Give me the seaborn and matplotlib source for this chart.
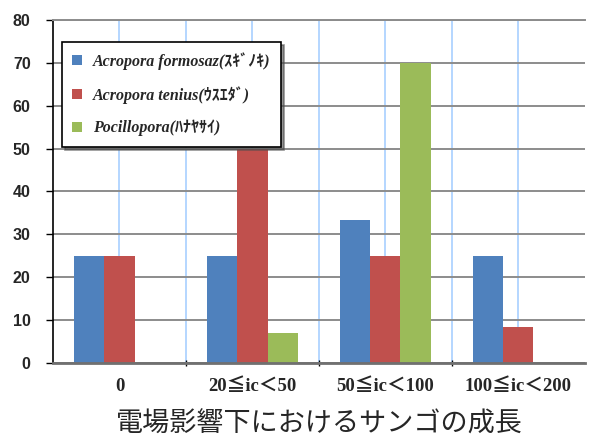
import pandas as pd
import matplotlib
matplotlib.use('Agg')
import matplotlib.pyplot as plt
import seaborn as sns

categories = ['0', '20≦ic＜50', '50≦ic＜100', '100≦ic＜200']
species = ['Acropora formosaz(ｽｷﾞﾉｷ)', 'Acropora tenius(ｳｽｴﾀﾞ)', 'Pocillopora(ﾊﾅﾔｻｲ)']
formosaz = [25.0, 25.0, 33.3, 25.0]
tenius = [25.0, 50.0, 25.0, 8.3]
pocillopora = [0.0, 7.0, 70.0, 0.0]
colors = ['#4F81BD', '#C0504D', '#9BBB59']
yticks = [0, 10, 20, 30, 40, 50, 60, 70, 80]

rows = []
for name, vals in zip(species, [formosaz, tenius, pocillopora]):
    for cat, v in zip(categories, vals):
        rows.append({'range': cat, 'species': name, 'value': v})
df = pd.DataFrame(rows)

sns.set_style('white')
plt.rcParams['font.family'] = ['Liberation Serif', 'Noto Sans CJK JP']

fig = plt.figure(figsize=(5.95, 4.42), dpi=100)
ax = fig.add_axes([0.089, 0.179, 0.894, 0.776])
ax.set_axisbelow(True)

sns.barplot(data=df, x='range', y='value', hue='species', order=categories,
            hue_order=species, palette=colors, width=0.68, saturation=1,
            ax=ax, edgecolor='none', linewidth=0)

ax.set_ylim(0, 80)
ax.set_xlim(-0.5, 3.5)
ax.set_yticks(yticks)
ax.set_yticklabels([str(t) for t in yticks], family=['Liberation Sans'],
                   fontweight='bold', fontsize=11.5)
ax.set_xticks(range(len(categories)))
ax.set_xticklabels(categories, fontweight='bold', fontsize=13.5)
ax.set_xticks([0.5, 1.5, 2.5], minor=True)

ax.tick_params(axis='y', which='major', left=True, length=5, width=1,
               color='black', pad=11, direction='out')
ax.tick_params(axis='x', which='major', length=0, pad=11)
ax.tick_params(axis='x', which='minor', bottom=True, length=4, width=1,
               color='black', direction='inout')

ax.yaxis.grid(True, color='#8c8c8c', linewidth=1.4)
ax.xaxis.grid(True, which='both', color='#a8d0ff', linewidth=1.2)

ax.spines['left'].set_color('black')
ax.spines['left'].set_linewidth(1.2)
ax.spines['bottom'].set_color('#707070')
ax.spines['bottom'].set_linewidth(2)
ax.spines['top'].set_color('#8c8c8c')
ax.spines['top'].set_linewidth(1.4)
ax.spines['right'].set_visible(False)

ax.set_ylabel('')
ax.set_xlabel('電場影響下におけるサンゴの成長', family=['Noto Sans CJK JP'],
              fontsize=19.5, labelpad=11)

leg = ax.legend(loc='upper left', bbox_to_anchor=(0.017, 0.936), borderaxespad=0,
                frameon=True, fancybox=False, shadow={'ox': 2, 'oy': -2, 'alpha': 0.6},
                edgecolor='black', framealpha=1, handlelength=0.6, handleheight=0.6,
                labelspacing=1.0, borderpad=0.65, handletextpad=0.7,
                prop={'family': ['Liberation Serif', 'Noto Sans CJK JP'],
                      'style': 'italic', 'weight': 'bold', 'size': 11.5})
leg.get_frame().set_linewidth(1.2)
leg.set_title(None)

fig.savefig('out.png', dpi=100)
plt.close(fig)
